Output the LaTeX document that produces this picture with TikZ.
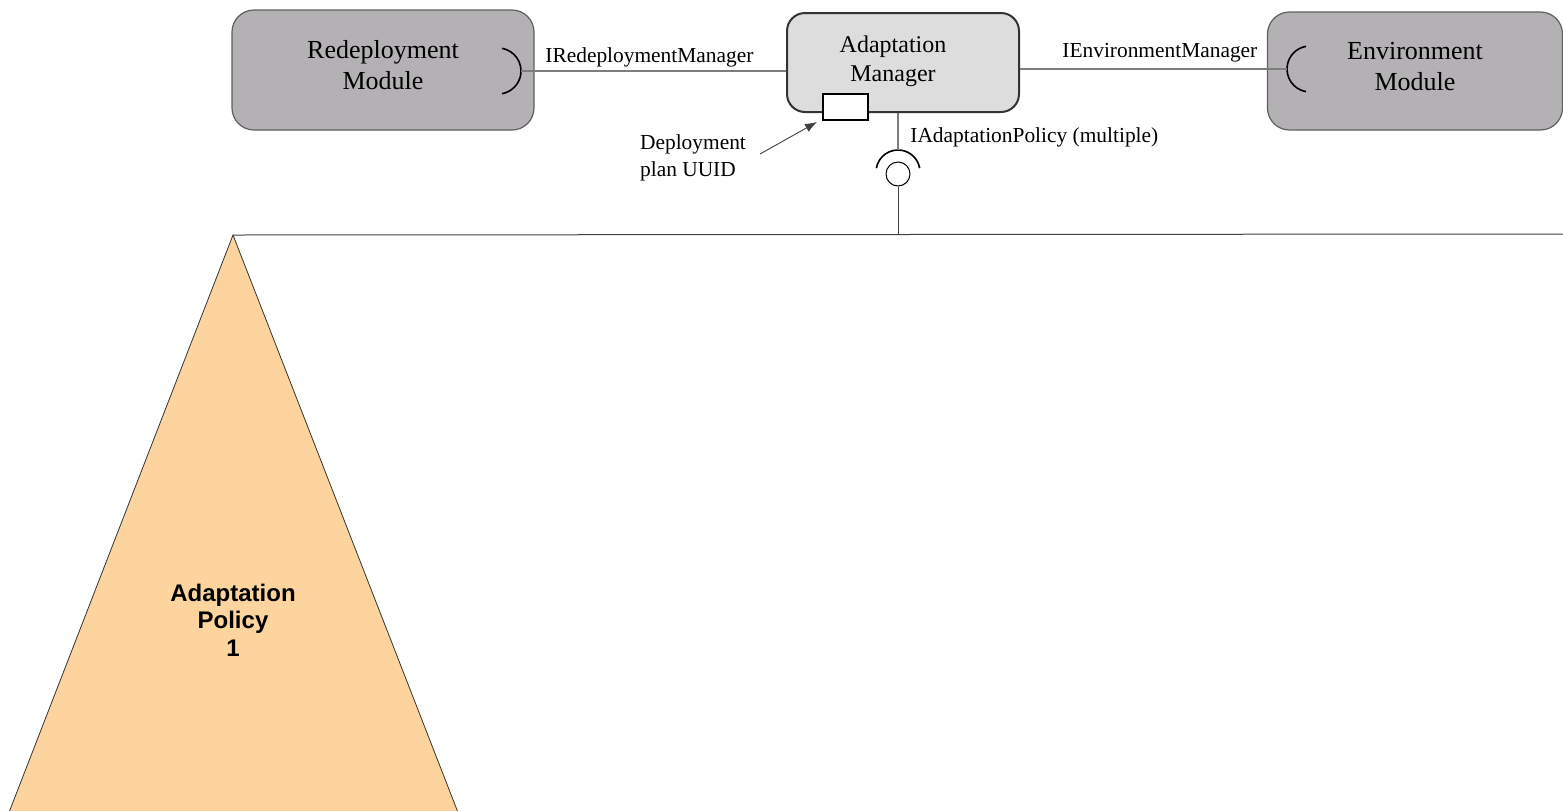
\documentclass[tikz,border=0pt]{standalone}
\usepackage{fontspec}
\setmainfont{Liberation Serif}
\newfontfamily\arialfont{Liberation Sans}
\usetikzlibrary{arrows.meta}
\definecolor{modgray}{RGB}{179,177,179}
\definecolor{modborder}{RGB}{95,95,95}
\definecolor{mgrgray}{RGB}{221,221,221}
\definecolor{linegray}{RGB}{125,125,125}
\definecolor{peach}{RGB}{253,212,158}
\begin{document}
\begin{tikzpicture}[x=0.5pt,y=-0.5pt,
  module/.style={draw=modborder, fill=modgray, rounded corners=11pt, line width=0.6pt, inner sep=0pt},
  manager/.style={draw=black!80, fill=mgrgray, rounded corners=9pt, line width=1pt, inner sep=0pt},
  modtext/.style={align=center, inner sep=0pt, font=\fontsize{13}{15.5}\selectfont},
  mgrtext/.style={align=center, inner sep=0pt, font=\fontsize{12}{14.5}\selectfont},
  iflabel/.style={inner sep=0pt, font=\fontsize{10.7}{13.5}\selectfont},
  wire/.style={draw=linegray, line width=0.55pt},
  socket/.style={draw=black, line width=0.8pt},
  portbox/.style={draw=black, fill=white, line width=0.6pt, minimum width=22.5pt, minimum height=13pt, inner sep=0pt},
  ballnode/.style={circle, draw=black, fill=white, line width=0.5pt, minimum size=12pt, inner sep=0pt},
  pointer/.style={draw=black!75, line width=0.45pt, -{Latex[length=6pt,width=4.5pt]}},
  policy/.style={draw=black!80, fill=peach, line width=0.4pt},
  policytext/.style={align=center, inner sep=0pt, font=\arialfont\bfseries\fontsize{12}{13.75}\selectfont}
]
\useasboundingbox (0,0) rectangle (1563,810);

% modules
\node[module, minimum width=151pt, minimum height=60pt] (red) at (383,70) {};
\node[modtext] (redtxt) at (383,65) {Redeployment\\Module};
\node[manager, minimum width=116pt, minimum height=49.5pt] (am) at (903,62.5) {};
\node[mgrtext] (amtxt) at (893,61) {Adaptation\\Manager};
\node[module, minimum width=147.5pt, minimum height=59pt] (env) at (1415,71) {};
\node[modtext] (envtxt) at (1415,66.5) {Environment\\Module};

% port on the adaptation manager
\node[portbox] (port) at (845.5,107) {};

% redeployment socket and wire
\coordinate (rsock) at (498,71);
\coordinate (rtip) at (521,71);
\draw[socket] ([shift={(-80:23)}]rsock) arc[start angle=-80, end angle=80, radius=23];
\draw[wire] (rtip) -- (rtip -| am.west);
\node[iflabel, anchor=base west] (irm) at (545,62) {IRedeploymentManager};

% environment socket and wire
\coordinate (esock) at (1310,69);
\coordinate (etip) at (1287,69);
\draw[socket] ([shift={(100:23)}]esock) arc[start angle=100, end angle=260, radius=23];
\draw[wire] (etip) -- (etip -| am.east);
\node[iflabel, anchor=base west] (iem) at (1062,57) {IEnvironmentManager};

% adaptation policy interface (ball and socket)
\coordinate (psock) at (898,172);
\coordinate (arctop) at (898,150);
\node[ballnode] (ball) at (898,174) {};
\draw[socket] ([shift={(190:22)}]psock) arc[start angle=190, end angle=350, radius=22];
\draw[wire] (arctop |- am.south) -- (arctop);
\node[iflabel, anchor=base west] (iap) at (910,142) {IAdaptationPolicy (multiple)};

% bus line and policy
\coordinate (apex) at (233,235);
\coordinate (busend) at (1563,234);
\coordinate (busjoin) at (898,234);
\draw[draw=black!75, line width=0.5pt] (ball.south) -- (busjoin);
\draw[draw=black!75, line width=0.5pt] (apex) -- (busend);
\coordinate (bl) at (8,815);
\coordinate (br) at (459,815);
\draw[policy] (apex) -- (br) -- (bl) -- cycle;
\node[policytext] (pol) at (233,620) {Adaptation\\Policy\\1};

% deployment plan UUID pointer
\node[iflabel, align=left] (plan) at (693,158) {Deployment\\plan UUID};
\coordinate (dtail) at (760,154);
\coordinate (dtip) at (817,122);
\draw[pointer] (dtail) -- (dtip);
\end{tikzpicture}
\end{document}
